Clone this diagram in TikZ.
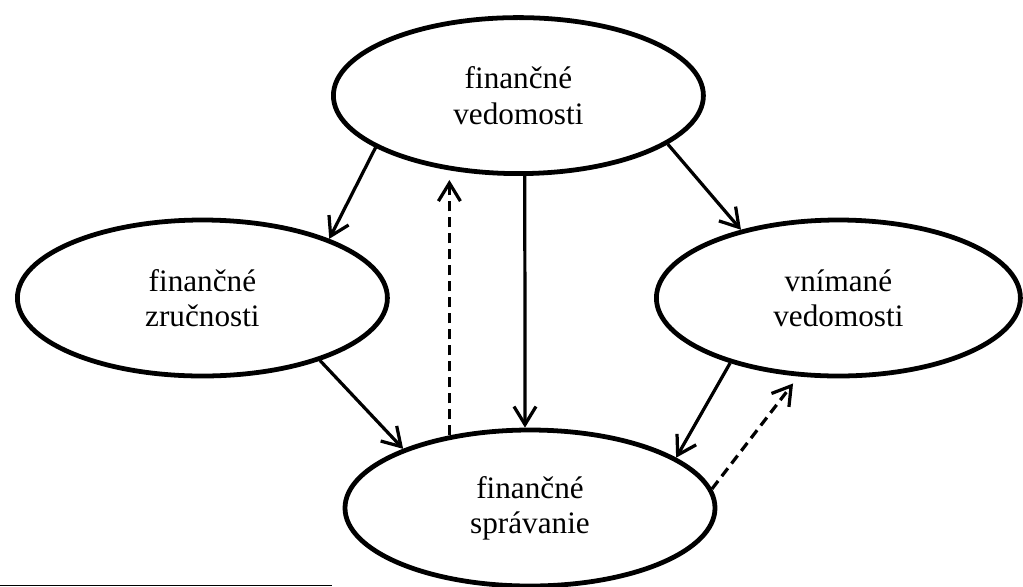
\documentclass[tikz,border=0pt]{standalone}
\usepackage{fontspec}
\setmainfont{Liberation Serif}
\usetikzlibrary{shapes.geometric,arrows.meta}
\begin{document}
\begin{tikzpicture}[scale=1, line join=round, >={Straight Barb[length=4.5mm,width=5.5mm]},
	font=\fontsize{22.2}{25}\selectfont,
	elipsa/.style={draw, ellipse, line width=3.4pt, inner sep=0pt, align=center, minimum width=9.25cm, minimum height=3.9cm},
	sipka/.style={->, line width=2.3pt},
	carkovana/.style={sipka, dash pattern=on 2.5mm off 1.5mm}]
	\useasboundingbox (0,0) rectangle (25.575,-14.65);
	\node[elipsa] (fv) at (12.96,-2.39) {finančné\\vedomosti};
	\node[elipsa] (fz) at (5.06,-7.45) {finančné\\zručnosti};
	\node[elipsa, minimum width=9.1cm] (vv) at (20.96,-7.45) {vnímané\\vedomosti};
	\node[elipsa] (fs) at (13.25,-12.7) {finančné\\správanie};
	\draw[sipka] (fv.200) -- (fz.25);
	\draw[sipka] (fv.342) -- (vv.145);
	\draw[sipka] ([xshift=1.6mm]fv.south) -- ([xshift=-1.25mm]fs.north);
	\draw[carkovana, shorten >=1mm] (fs.138) -- (fs.138 |- fv.south);
	\draw[sipka] (fz.332) -- (fs.155);
	\draw[sipka] (vv.211) -- (fs.19);
	\draw[carkovana, shorten >=2.2mm] (fs.6) -- (vv.243);
	\draw[line width=0.6pt] (0,-14.625) -- (8.3,-14.625);
\end{tikzpicture}
\end{document}
